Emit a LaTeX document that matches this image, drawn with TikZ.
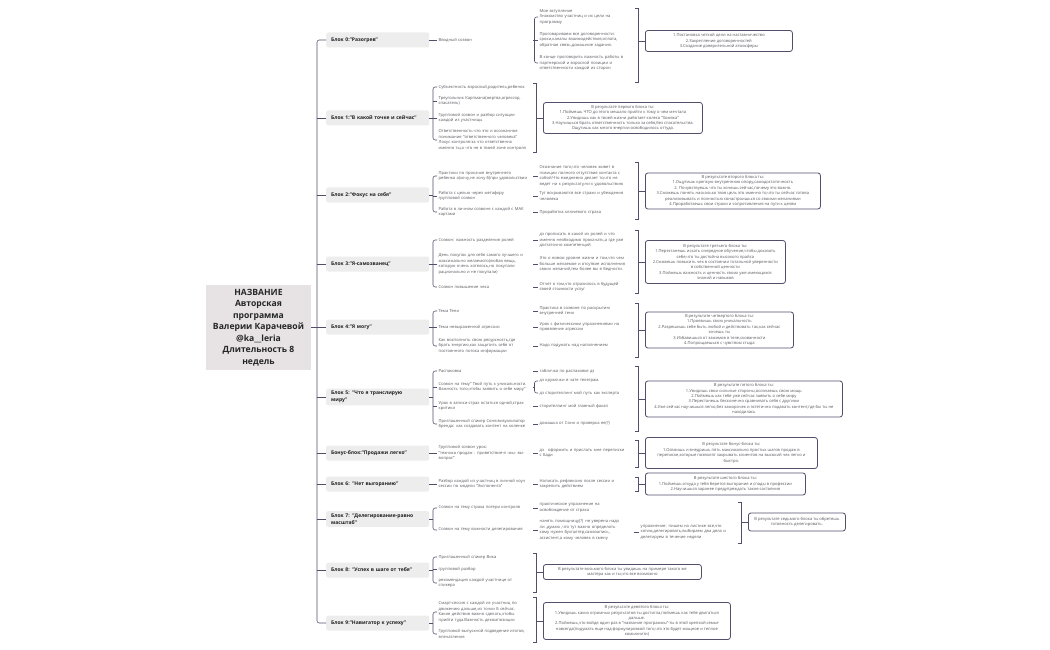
\documentclass[tikz,border=0pt]{standalone}
\usepackage{fontspec}
\setmainfont{Open Sans}
\definecolor{lc}{RGB}{84,78,106}
\definecolor{txt}{RGB}{88,88,94}
\definecolor{blkfill}{RGB}{237,237,237}
\definecolor{rootfill}{RGB}{231,227,229}
\tikzset{
  ln/.style={draw=lc, line width=0.55pt},
  rootbox/.style={fill=rootfill, minimum width=105pt, minimum height=85pt, align=center,
    font=\bfseries\fontsize{8.6}{11.5}\selectfont, text=black!85, inner sep=0pt},
  blk/.style={fill=blkfill, rounded corners=2pt, anchor=west, text width=93pt, inner xsep=5pt,
    inner ysep=2.5pt, minimum height=15pt, align=left, font=\bfseries\fontsize{5}{7}\selectfont, text=black!88},
  lv/.style={anchor=west, align=left, text width=93pt, inner ysep=0pt, inner xsep=1.5pt,
    font=\fontsize{4.1}{5.5}\selectfont, text=txt},
  sumbox/.style={draw=lc, line width=0.8pt, rounded corners=2.5pt, fill=white, align=center,
    anchor=west, inner sep=2pt, font=\fontsize{4.1}{5.4}\selectfont, text=txt},
}
\newcommand\fan[4]{%
  \draw[ln,rounded corners=2.2pt] (#3.west) -- (#3.west -| #2) -- (#4.west -| #2) -- (#4.west);
  \draw[ln] (#1.east) -- (#1.east -| #2);}
\newcommand\tick[2]{\foreach \kid in {#2}{\draw[ln] (\kid.west -| #1) -- (\kid.west);}}
\newcommand\sumbr[4]{%
  \coordinate (#1t) at (#2,#3); \coordinate (#1b) at (#2,#4);
  \draw[ln] ([xshift=-3pt]#1t) -- (#1t) -- (#1b) -- ([xshift=-3pt]#1b);
  \draw[ln] (#1.west) -- (#1.west -| #1t);}
\begin{document}
\begin{tikzpicture}[x=1pt,y=-1pt]
\fill[white] (0,0) rectangle (1050,650);
\useasboundingbox (0,0) rectangle (1050,650);
\coordinate (SP) at (317,0);
\coordinate (L2) at (433,0);
\coordinate (L3) at (534.5,0);

% root
\node[rootbox] (root) at (258.5,327.5) {НАЗВАНИЕ\\Авторская\\программа\\Валерии Карачевой\\@ka\_\_leria\\Длительность 8\\недель};

% blocks
\node[blk] (B0) at (326,40) {Блок 0:"Разогрев"};
\node[blk] (B1) at (326,118) {Блок 1:"В какой точке и сейчас"};
\node[blk] (B2) at (326,195) {Блок 2:"Фокус на себя"};
\node[blk] (B3) at (326,264) {Блок 3:"Я-самозванец"};
\node[blk] (B4) at (326,327) {Блок 4:"Я могу"};
\node[blk] (B5) at (326,397) {Блок 5: "Что я транслирую\\миру"};
\node[blk] (BB) at (326,453) {Бонус-блок:"Продажи легко"};
\node[blk] (B6) at (326,484) {Блок 6: "Нет выгоранию"};
\node[blk] (B7) at (326,519) {Блок 7: "Делегирование-равно\\масштаб"};
\node[blk] (B8) at (326,570) {Блок 8: "Успех в шаге от тебя"};
\node[blk] (B9) at (326,623) {Блок 9:"Навигатор к успеху"};

\fan{root}{SP}{B0}{B9}
\tick{SP}{B1,B2,B3,B4,B5,BB,B6,B7,B8}

% ---- Block 0
\node[lv] (a0) at (437,40) {Вводный созвон};
\draw[ln] (B0.east) -- (a0.west);
\node[lv] (k1) at (538,17) {Мое вступление\\Знакомство участниц и их цели на\\программу};
\node[lv] (k2) at (538,40) {Проговариваем все договоренности:\\сроки,каналы взаимодействия,оплата,\\обратная связь,домашние задания.};
\node[lv] (k3) at (538,63) {В конце проговорить важность работы в\\партнерской и взрослой позиции и\\ответственности каждой из сторон};
\fan{a0}{L3}{k1}{k3}
\tick{L3}{k2}
\node[sumbox, minimum width=147pt, minimum height=21pt] (S0) at (645,41) {1.Постановка четкой цели на наставничество\\2.Закрепление договоренностей\\3.Создание доверительной атмосферы};
\sumbr{S0}{638}{8}{82}

% ---- Block 1
\node[lv] (a1) at (437,87) {Субъектность взрослый,родитель,ребенок};
\node[lv] (a2) at (437,101) {Треугольник Карпмана(жертва,агрессор,\\спасатель)};
\node[lv] (a3) at (437,118) {Групповой созвон и разбор ситуации\\каждой из участницы};
\node[lv] (a4) at (437,140) {Ответственность-что это и осознанное\\понимание "ответственного человека"\\Локус контроля:за что ответственна\\именно ты,а что не в твоей зоне контроля};
\fan{B1}{L2}{a1}{a4}
\tick{L2}{a2,a3}
\node[sumbox, minimum width=159pt, minimum height=31pt] (S1) at (543,118) {В результате первого блока ты:\\1.Поймешь ЧТО до этого мешало прийти к тому о чем мечтала\\2.Увидишь как в твоей жизни работает колесо "Хомяка"\\3.Научишься брать ответственность только за себя,без спасательства.\\Ощутишь как много энергии освободилось оттуда.};
\sumbr{S1}{536}{83}{152}

% ---- Block 2
\node[lv] (b1) at (437,176) {Практики по прокачке внутреннего\\ребенка а)хочу,не хочу б)при удовольствии};
\node[lv] (b2) at (437,196) {Работа с целью через метафору\\групповой созвон};
\node[lv] (b3) at (437,212) {Работа в личном созвоне с каждой с МАК\\картами};
\fan{B2}{L2}{b1}{b3}
\tick{L2}{b2}
\node[lv] (b1x) at (538,176) {Осознание того,что  человек живет в\\позиции полного отсутствия контакта с\\собой.Что ежедневно делает то,что не\\ведет ни к результату,ни к удовольствию};
\node[lv] (b2x) at (538,196) {Тут вскрываются все страхи и убеждения\\человека};
\node[lv] (b3x) at (538,212) {Проработка ключевого страха};
\draw[ln] (b1.east) -- (b1x.west);
\draw[ln] (b2.east) -- (b2x.west);
\draw[ln] (b3.east) -- (b3x.west);
\node[sumbox, minimum width=175pt, minimum height=36pt] (S2) at (645,191) {В результате второго блока ты:\\1.Ощутишь крепкую внутреннюю опору,самодостаточность\\2. Почувствуешь что ты хочешь сейчас,почему это важно.\\3.Сможешь понять насколько твоя цель это именно то,что ты сейчас готова\\реализовывать и полностью сонастроишься со своими желаниями\\4.Проработаешь свои страхи и сопротивления на пути к целям};
\sumbr{S2}{638}{162}{219}

% ---- Block 3
\node[lv] (c1) at (437,240) {Созвон: важность разделения ролей};
\node[lv] (c2) at (437,264) {День покупок для себя самого лучшего и\\максимально желаемого(любая вещь,\\которую очень хотелось,но покупали\\рационально и не покупали)};
\node[lv] (c3) at (437,287) {Созвон повышение чека};
\fan{B3}{L2}{c1}{c3}
\tick{L2}{c2}
\node[lv] (c1x) at (538,240) {дз прописать в какой из ролей и что\\именно необходимо прокачать,а где уже\\достаточно компетенций};
\node[lv] (c2x) at (538,264) {Это о новом уровне жизни и том,что чем\\больше желаемое и отсутвие исполнения\\своих желаний,тем более вы в бедности.};
\node[lv] (c3x) at (538,287) {Отчет о том,что отразилось в будущей\\своей стоимости услуг};
\draw[ln] (c1.east) -- (c1x.west);
\draw[ln] (c2.east) -- (c2x.west);
\draw[ln] (c3.east) -- (c3x.west);
\node[sumbox, minimum width=140pt, minimum height=43pt] (S3) at (645,262) {В результате третьего блока ты:\\1.Перестанешь искать очередное обучение,чтобы доказать\\себе,что ты достойна высокого прайса\\2.Сможешь повысить чек в состоянии тотальной уверенности\\в собственной ценности\\3.Поймешь важность и ценность своих уже имеющихся\\знаний и навыков};
\sumbr{S3}{638}{230}{293}

% ---- Block 4
\node[lv] (d1) at (437,311) {Тема Тени};
\node[lv] (d2) at (437,327) {Тема невыраженной агрессии};
\node[lv] (d3) at (437,346) {Как восполнить свою ресурсность,где\\брать энергию,как защитить себя от\\постоянного потока информации};
\fan{B4}{L2}{d1}{d3}
\tick{L2}{d2}
\node[lv] (d1x) at (538,311) {Практика в созвоне по раскрытию\\внутренней тени};
\node[lv] (d2x) at (538,327) {Урок с физическими упражнениями на\\проявление агрессии};
\node[lv] (d3x) at (538,346) {Надо подумать над наполнением};
\draw[ln] (d1.east) -- (d1x.west);
\draw[ln] (d2.east) -- (d2x.west);
\draw[ln] (d3.east) -- (d3x.west);
\node[sumbox, minimum width=148pt, minimum height=36pt] (S4) at (645,330) {В результате четвертого блока ты:\\1.Проявишь свою уникальность\\2.Разрешишь себе быть любой и действовать так,как сейчас\\хочешь ты\\3.Избавишься от зажимов в теле,скованности\\4.Попрощаешься с чувством стыда};
\sumbr{S4}{638}{303}{357}

% ---- Block 5
\node[lv] (e1) at (437,371) {Распаковка};
\node[lv] (e2) at (437,387) {Созвон на тему" Твой путь к уникальности.\\Важность того,чтобы заявить о себе миру"};
\node[lv] (e3) at (437,406) {Урок в записи-страх остаться одной,страх\\критики};
\node[lv] (e4) at (437,424) {Приглашенный спикер Соня:визуализатор\\бренда: как создавать контент на коленке};
\fan{B5}{L2}{e1}{e4}
\tick{L2}{e2,e3}
\node[lv] (e1x) at (538,371) {табличка по распаковке дз};
\node[lv] (e2a) at (538,381) {дз кружочки в чате телеграм.};
\node[lv] (e2b) at (538,393) {дз сторителлинг мой путь как эксперта};
\node[lv] (e3x) at (538,406) {сторителлинг мой главный факап};
\node[lv] (e4x) at (538,424) {домашка от Сони и проверка ее(?)};
\draw[ln] (e1.east) -- (e1x.west);
\fan{e2}{L3}{e2a}{e2b}
\draw[ln] (e3.east) -- (e3x.west);
\draw[ln] (e4.east) -- (e4x.west);
\node[sumbox, minimum width=197pt, minimum height=36pt] (S5) at (645,399) {В результате пятого блока ты:\\1.Увидишь свои сильные стороны,осознаешь свою мощь\\2.Поймешь как тебе уже сейчас заявить о себе миру\\3.Перестанешь бесконечно сравнивать себя с другими\\4.Уже сейчас научишься легко,без заморочек и эстетично подавать контент,где бы ты не\\находилась};
\sumbr{S5}{638}{366}{431}

% ---- Bonus block
\node[lv] (f1) at (437,453) {Групповой созвон урок:\\"техника продаж : приветствие-я -мы- вы-\\вопрос"};
\draw[ln] (BB.east) -- (f1.west);
\node[lv] (f1x) at (538,453) {дз\ \ \ оформить и прислать мне переписки\\с Бади};
\draw[ln] (f1.east) -- (f1x.west);
\node[sumbox, minimum width=172pt, minimum height=31pt] (SB) at (645,453) {В результате бонус-блока ты:\\1.Освоишь и внедришь пять максимально простых шагов продаж в\\переписке,которые позволят закрывать клиентов на высокий чек легко и\\быстро.};
\sumbr{SB}{638}{440}{467}

% ---- Block 6
\node[lv] (g1) at (437,484) {Разбор каждой из участниц в личной коуч\\сессии по модели "Экспонента"};
\draw[ln] (B6.east) -- (g1.west);
\node[lv] (g1x) at (538,484) {Написать рефлексию после сессии и\\закрепить действием};
\draw[ln] (g1.east) -- (g1x.west);
\node[sumbox, minimum width=160pt, minimum height=22pt] (S6) at (645,484) {В результате шестого блока ты:\\1.Поймешь откуда у тебя берется выгорание и спады в профессии\\2.Научишься заранее предупреждать такие состояния};
\sumbr{S6}{638}{477}{491}

% ---- Block 7
\node[lv] (h1) at (437,508) {Созвон на тему страха потери контроля};
\node[lv] (h2) at (437,530) {Созвон на тему важности делегирования};
\fan{B7}{L2}{h1}{h2}
\node[lv] (h1x) at (538,508) {практическое упражнение на\\освобождение от страха};
\node[lv] (h2x) at (538,530) {нанять помощницу(?) не  уверена надо\\ли ,думаю ,что тут важно определить\\кому нужен бухгалтер,самозапись,\\ассистент,а кому человек в смену};
\draw[ln] (h1.east) -- (h1x.west);
\draw[ln] (h2.east) -- (h2x.west);
\node[lv] (h2y) at (639,532) {упражнение: пишем на листике все,что\\хотим,делегировать,выбираем два дела и\\делегируем в течение недели};
\draw[ln] (h2x.east |- h2y.west) -- (h2y.west);
\node[sumbox, minimum width=97pt, minimum height=18pt] (S7) at (748,522) {В результате седьмого блока ты обретешь\\готовность делегировать.};
\sumbr{S7}{741}{502}{543}

% ---- Block 8
\node[lv] (i1) at (437,557) {Приглашенный спикер Вика};
\node[lv] (i2) at (437,569) {групповой разбор};
\node[lv] (i3) at (437,583) {рекомендация каждой участнице от\\спикера};
\fan{B8}{L2}{i1}{i3}
\tick{L2}{i2}
\node[sumbox, minimum width=158pt, minimum height=15pt] (S8) at (543,572) {В результате восьмого блока ты увидишь на примере такого же\\мастера как и ты,что все возможно};
\sumbr{S8}{536}{553}{592}

% ---- Block 9
\node[lv] (j1) at (437,612) {Смарт-сессия с каждой из участниц по\\движению дальше,из точки Б сейчас.\\Какие действия важно сделать,чтобы\\прийти туда.Важность декомпозиции};
\node[lv] (j2) at (437,634) {Групповой выпускной подведение итогов,\\впечатления};
\fan{B9}{L2}{j1}{j2}
\node[sumbox, minimum width=187pt, minimum height=37pt] (S9) at (543,621) {В результате девятого блока ты:\\1.Увидишь каких огромных результатов ты достигла,поймешь как тебе двигаться\\дальше.\\2.Поймешь,что войдя один раз в "название программы"-ты в этой крепкой семье\\навсегда(подумать еще над формулировкой того,что это будет мощное и теплое\\комьюнити)};
\sumbr{S9}{536}{597}{642}
\end{tikzpicture}
\end{document}
